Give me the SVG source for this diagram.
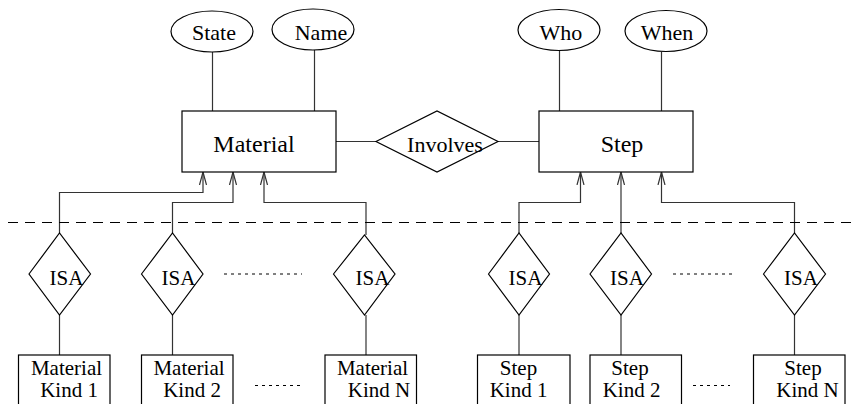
<svg xmlns="http://www.w3.org/2000/svg" width="856" height="404" viewBox="0 0 856 404">
<defs>
<style>
.s{fill:#fff;stroke:#000;stroke-width:1.2}
.c{fill:none;stroke:#333;stroke-width:1.2}
.dots{fill:none;stroke:#000;stroke-width:1;stroke-dasharray:3 4}
text{font-family:'Liberation Serif','DejaVu Serif',serif;text-anchor:middle;fill:#000}
</style>
<marker id="ah" viewBox="0 0 14 10" refX="13" refY="5" markerWidth="14" markerHeight="10" markerUnits="userSpaceOnUse" orient="auto">
<path d="M0,1.5 L13,5 L0,8.5" fill="none" stroke="#333" stroke-width="1.2"/>
</marker>
</defs>
<rect width="856" height="404" fill="#fff"/>

<g id="connectors">
<line class="c" x1="212.5" y1="52" x2="212.5" y2="111"/>
<line class="c" x1="314.5" y1="50" x2="314.5" y2="111"/>
<line class="c" x1="559.5" y1="51" x2="559.5" y2="111"/>
<line class="c" x1="661.5" y1="52" x2="661.5" y2="111"/>
<line class="c" x1="336" y1="141.5" x2="376" y2="141.5"/>
<line class="c" x1="498" y1="141.5" x2="539" y2="141.5"/>
<polyline class="c" points="59.5,233 59.5,192.5 203,192.5 203,172" marker-end="url(#ah)"/>
<polyline class="c" points="172.5,233 172.5,202.5 233,202.5 233,172" marker-end="url(#ah)"/>
<polyline class="c" points="366,235 366,202.5 264,202.5 264,172" marker-end="url(#ah)"/>
<polyline class="c" points="519,233 519,202.5 580.5,202.5 580.5,172" marker-end="url(#ah)"/>
<polyline class="c" points="621,233 621,172" marker-end="url(#ah)"/>
<polyline class="c" points="794.5,233 794.5,202.5 661.5,202.5 661.5,172" marker-end="url(#ah)"/>
<line class="c" x1="59.5" y1="315" x2="59.5" y2="355"/>
<line class="c" x1="172.5" y1="315" x2="172.5" y2="355"/>
<line class="c" x1="366" y1="315" x2="366" y2="355"/>
<line class="c" x1="519" y1="315" x2="519" y2="355"/>
<line class="c" x1="621" y1="315" x2="621" y2="355"/>
<line class="c" x1="794.5" y1="315" x2="794.5" y2="355"/>
</g>

<line x1="8" y1="222.5" x2="856" y2="222.5" stroke="#000" stroke-width="1.2" stroke-dasharray="10 7"/>

<g id="state"><ellipse class="s" cx="212" cy="31.5" rx="41" ry="20.5"/><text font-size="22" x="214" y="40">State</text></g>
<g id="name"><ellipse class="s" cx="313" cy="29.5" rx="41" ry="20.5"/><text font-size="22" x="321" y="40">Name</text></g>
<g id="who"><ellipse class="s" cx="559" cy="30" rx="41" ry="20.5"/><text font-size="22" x="561" y="40">Who</text></g>
<g id="when"><ellipse class="s" cx="666" cy="31" rx="41" ry="20.5"/><text font-size="22" x="667" y="40">When</text></g>

<g id="material"><rect class="s" x="182" y="111" width="154" height="61"/><text font-size="24" x="254" y="152">Material</text></g>
<g id="step"><rect class="s" x="539" y="111" width="154" height="61"/><text font-size="24" x="622" y="152">Step</text></g>
<g id="involves"><polygon class="s" points="376,141.5 437,111 498,141.5 437,172"/><text font-size="22" x="445" y="151.5">Involves</text></g>

<g id="isa-m1"><polygon class="s" points="29,274 59.5,233 90.5,274 59.5,315"/><text font-size="21" x="66.5" y="285">ISA</text></g>
<g id="isa-m2"><polygon class="s" points="141.5,274 172.5,233 203,274 172.5,315"/><text font-size="21" x="178.5" y="285">ISA</text></g>
<g id="isa-mn"><polygon class="s" points="333.5,274 364.5,235 395,274 364.5,315"/><text font-size="21" x="372.5" y="285">ISA</text></g>
<g id="isa-s1"><polygon class="s" points="488.5,274 519,233 549.5,274 519,315"/><text font-size="21" x="525.5" y="285">ISA</text></g>
<g id="isa-s2"><polygon class="s" points="590,274 621,233 651.5,274 621,315"/><text font-size="21" x="627" y="285">ISA</text></g>
<g id="isa-sn"><polygon class="s" points="763.5,274 794.5,233 825.5,274 794.5,315"/><text font-size="21" x="801" y="285">ISA</text></g>

<g id="mk1"><rect class="s" x="18.5" y="355" width="91.5" height="70"/><text font-size="21" x="66.5" y="375">Material</text><text font-size="21" x="69" y="397">Kind 1</text></g>
<g id="mk2"><rect class="s" x="141.5" y="355" width="91.5" height="70"/><text font-size="21" x="189" y="375">Material</text><text font-size="21" x="192" y="397">Kind 2</text></g>
<g id="mkn"><rect class="s" x="325" y="355" width="91.5" height="70"/><text font-size="21" x="372.5" y="375">Material</text><text font-size="21" x="379" y="397">Kind N</text></g>
<g id="sk1"><rect class="s" x="477.5" y="355" width="92.5" height="70"/><text font-size="21" x="518.5" y="375">Step</text><text font-size="21" x="518.5" y="397">Kind 1</text></g>
<g id="sk2"><rect class="s" x="590" y="355" width="91.5" height="70"/><text font-size="21" x="630" y="375">Step</text><text font-size="21" x="631.5" y="397">Kind 2</text></g>
<g id="skn"><rect class="s" x="753.5" y="355" width="91.5" height="70"/><text font-size="21" x="803" y="375">Step</text><text font-size="21" x="807.5" y="397">Kind N</text></g>

<line class="dots" x1="224" y1="274" x2="302" y2="274"/>
<line class="dots" x1="673" y1="274" x2="734" y2="274"/>
<line class="dots" x1="255" y1="385.5" x2="300" y2="385.5"/>
<line class="dots" x1="693" y1="385.5" x2="730" y2="385.5"/>
</svg>
